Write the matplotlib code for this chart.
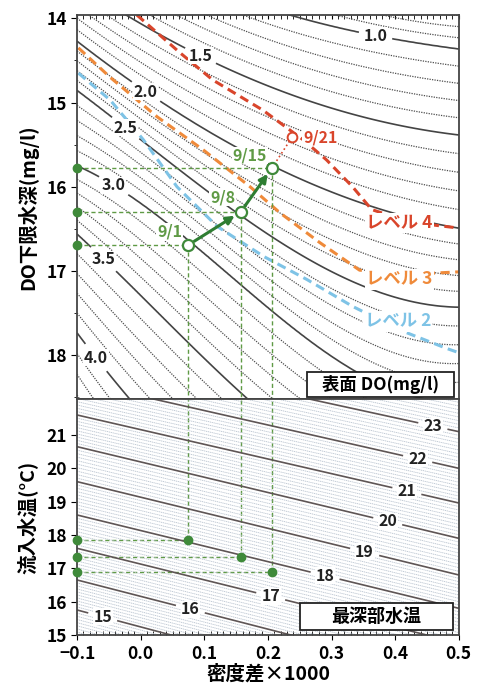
import numpy as np
import matplotlib
matplotlib.use("Agg")
import matplotlib.pyplot as plt
from matplotlib.patches import Rectangle

plt.rcParams['font.family'] = ['Noto Sans CJK JP', 'DejaVu Sans']

# ---- top panel: surface DO contours (depth of each level at each density column)
dens_cols = [-0.1, 0.0, 0.1, 0.2, 0.3, 0.4, 0.5]
do_levels = [0.5, 1.0, 1.5, 2.0, 2.5, 3.0, 3.5, 4.0, 4.5]
depth_do05 = [12.0, 12.3, 12.7, 13.0, 13.4, 13.6, 13.7]
depth_do10 = [12.8, 13.2, 13.7, 13.80, 14.09, 14.28, 14.35]
depth_do15 = [13.6, 14.02, 14.52, 14.79, 15.04, 15.28, 15.38]
depth_do20 = [14.28, 14.80, 15.34, 15.73, 16.04, 16.33, 16.49]
depth_do25 = [14.85, 15.45, 16.02, 16.57, 16.98, 17.34, 17.42]
depth_do30 = [15.75, 16.19, 16.81, 17.44, 17.96, 18.47, 18.53]
depth_do35 = [16.58, 17.22, 18.11, 18.75, 19.2, 19.7, 19.7]
depth_do40 = [17.71, 18.71, 19.5, 20.0, 20.5, 21.0, 21.0]
depth_do45 = [18.9, 20.3, 21.0, 21.5, 22.0, 22.5, 22.5]

# management level lines
lv4_dens = [-0.006, 0.062, 0.113, 0.192, 0.255, 0.292, 0.333, 0.363, 0.423, 0.5]
lv4_depth = [13.96, 14.41, 14.73, 15.09, 15.44, 15.68, 16.00, 16.27, 16.42, 16.49]
lv3_dens = [-0.098, -0.048, 0.026, 0.098, 0.172, 0.219, 0.281, 0.344, 0.423, 0.5]
lv3_depth = [14.35, 14.70, 15.17, 15.56, 16.00, 16.31, 16.66, 16.99, 17.04, 17.01]
lv2_dens = [-0.098, -0.048, 0.004, 0.057, 0.12, 0.194, 0.261, 0.333, 0.407, 0.481, 0.5]
lv2_depth = [14.65, 14.97, 15.44, 16.0, 16.47, 16.83, 17.10, 17.42, 17.70, 17.92, 17.97]

# observations
obs_dates = ['9/1', '9/8', '9/15']
obs_dens = [0.075, 0.157, 0.206]
obs_depth = [16.69, 16.30, 15.78]
obs_inflow = [17.85, 17.33, 16.90]
fc_date = '9/21'
fc_dens = 0.238
fc_depth = 15.41

# ---- bottom panel: deepest water temperature (inflow temp of each level at left/right edge)
deep_levels = [14, 15, 16, 17, 18, 19, 20, 21, 22, 23, 24]
inflow_left = [14.8, 15.75, 16.65, 17.6, 18.6, 19.6, 20.65, 21.6, 22.6, 23.6, 24.6]
inflow_right = [11.7, 12.7, 13.7, 14.76, 15.8, 16.8, 17.9, 18.96, 20.0, 21.1, 22.2]

RED = '#d9452b'
ORANGE = '#ef8a3a'
BLUE = '#7ec3e6'
GREEN = '#3f8a3a'
GREEN_LT = '#5f9a45'
LINE = '#444444'

fig = plt.figure(figsize=(4.85, 6.89), dpi=100)
ax1 = fig.add_axes([0.159, 0.4209, 0.787, 0.5573])
ax2 = fig.add_axes([0.159, 0.0784, 0.787, 0.3425])

# DO field from the level table
do_depths = [depth_do05, depth_do10, depth_do15, depth_do20, depth_do25,
             depth_do30, depth_do35, depth_do40, depth_do45]
xf = np.linspace(-0.1, 0.5, 161)
df = np.linspace(13.9, 18.6, 320)
fits = [np.polyfit(dens_cols, d, 3) for d in do_depths]
do_field = np.zeros((len(df), len(xf)))
for i, xv in enumerate(xf):
    dz = np.array([np.polyval(f, xv) for f in fits])
    do_field[:, i] = np.interp(df, dz, do_levels)

all_lv = np.round(np.arange(0.6, 4.45, 0.1), 1)
solid_lv = [v for v in all_lv if abs(v * 2 - round(v * 2)) < 1e-6]
dot_lv = [v for v in all_lv if v not in solid_lv]
ax1.contour(xf, df, do_field, levels=dot_lv, colors='#4d4d4d',
            linewidths=0.9, linestyles=[(0, (1, 1))])
cs1 = ax1.contour(xf, df, do_field, levels=solid_lv, colors=LINE, linewidths=1.2)
lab1 = ax1.clabel(cs1, fmt='%.1f', fontsize=11.5, inline=True, inline_spacing=6,
                  manual=[(0.368, 14.26), (0.093, 14.46), (0.010, 14.85), (-0.028, 15.35),
                          (-0.045, 16.02), (-0.056, 16.84), (-0.069, 18.02)])
for t in lab1:
    t.set_rotation(0)
    t.set_fontweight('bold')
    t.set_color('#222222')
    t.set_bbox(dict(fc='white', ec='none', pad=0.3))

dash = (0, (3, 1.8))
ax1.plot(lv4_dens, lv4_depth, color=RED, lw=2.2, ls=dash)
ax1.plot(lv3_dens, lv3_depth, color=ORANGE, lw=2.2, ls=dash)
ax1.plot(lv2_dens, lv2_depth, color=BLUE, lw=2.2, ls=dash)
lbl_box = dict(fc='white', ec='none', pad=1)
ax1.text(0.407, 16.43, 'レベル 4', color=RED, fontsize=12.5, fontweight='bold',
         ha='center', va='center', bbox=lbl_box)
ax1.text(0.407, 17.10, 'レベル 3', color=ORANGE, fontsize=12.5, fontweight='bold',
         ha='center', va='center', bbox=lbl_box)
ax1.text(0.404, 17.60, 'レベル 2', color=BLUE, fontsize=12.5, fontweight='bold',
         ha='center', va='center', bbox=lbl_box)

# guide lines to axes
top_lim = (18.52, 13.96)
bot_lim = (15, 22.08)
for xv, dv, tv in zip(obs_dens, obs_depth, obs_inflow):
    ax1.plot([-0.1, xv], [dv, dv], color=GREEN_LT, lw=1, ls=(0, (3, 2)))
    ax1.plot([xv, xv], [dv, top_lim[0]], color=GREEN_LT, lw=1, ls=(0, (3, 2)))
    ax1.plot(-0.1, dv, 'o', color=GREEN, ms=6, clip_on=False, zorder=6)
    ax2.plot([xv, xv], [tv, bot_lim[1]], color=GREEN_LT, lw=1, ls=(0, (3, 2)))
    ax2.plot([-0.1, xv], [tv, tv], color=GREEN_LT, lw=1, ls=(0, (3, 2)))
    ax2.plot(xv, tv, 'o', color=GREEN, ms=6, zorder=6)
    ax2.plot(-0.1, tv, 'o', color=GREEN, ms=6, clip_on=False, zorder=6)

ax1.plot([obs_dens[-1], fc_dens], [obs_depth[-1], fc_depth], color=RED, lw=1.2, ls=':')
for k in range(len(obs_dens) - 1):
    ax1.annotate('', xy=(obs_dens[k + 1], obs_depth[k + 1]), xytext=(obs_dens[k], obs_depth[k]),
                 arrowprops=dict(arrowstyle='-|>', color='#2e7d32', lw=2.2,
                                 mutation_scale=12, shrinkA=5, shrinkB=5), zorder=7)
ax1.plot(obs_dens, obs_depth, 'o', mfc='white', mec=GREEN, mew=1.6, ms=8, ls='none', zorder=8)
ax1.plot(fc_dens, fc_depth, 'o', mfc='white', mec=RED, mew=1.4, ms=7, zorder=8)
for lab, xv, dv, off in zip(obs_dates, obs_dens, obs_depth, [(-19, 13), (-18, 15), (-22, 13)]):
    ax1.annotate(lab, (xv, dv), xytext=off, textcoords='offset pixels', color=GREEN_LT,
                 fontsize=11.5, fontweight='bold', ha='center', va='center', zorder=9,
                 bbox=dict(fc='white', ec='none', pad=0.5))
ax1.annotate(fc_date, (fc_dens, fc_depth), xytext=(28, 0), textcoords='offset pixels', color=RED,
             fontsize=11.5, fontweight='bold', ha='center', va='center', zorder=9,
             bbox=dict(fc='white', ec='none', pad=0.5))

ax1.add_patch(Rectangle((0.602, 0.006), 0.386, 0.064, transform=ax1.transAxes,
                        fc='white', ec='#222222', lw=1.3, zorder=10))
ax1.text(0.795, 0.038, '表面 DO(mg/l)', transform=ax1.transAxes, fontsize=12.5,
         fontweight='bold', ha='center', va='center', zorder=11)

ax1.set_xlim(-0.1, 0.5)
ax1.set_ylim(*top_lim)
ax1.set_yticks([14, 15, 16, 17, 18])
ax1.set_yticks(np.arange(14.5, 18.6, 1.0), minor=True)
ax1.set_xticks(np.arange(-0.1, 0.51, 0.1))
ax1.set_xticks(np.arange(-0.1, 0.5, 0.01), minor=True)
ax1.tick_params(axis='x', which='both', direction='in', top=True, bottom=False,
                labelbottom=False, length=3)
ax1.set_ylabel('DO下限水深(mg/l)', fontsize=14, fontweight='bold', labelpad=6)

# bottom panel temperature field
yf = np.linspace(14.8, 22.3, 300)
t_field = np.zeros((len(yf), len(xf)))
for i, xv in enumerate(xf):
    w = (xv + 0.1) / 0.6
    tin = np.array(inflow_left) * (1 - w) + np.array(inflow_right) * w
    t_field[:, i] = np.interp(yf, tin, deep_levels)
thin_lv = [v for v in np.round(np.arange(14.1, 24, 0.1), 1) if abs(v - round(v)) > 1e-6]
ax2.contour(xf, yf, t_field, levels=thin_lv, colors='#b9c3cf', linewidths=0.6,
            linestyles=[(0, (1.5, 0.8))])
cs2 = ax2.contour(xf, yf, t_field, levels=list(range(15, 24)), colors='#5e5555', linewidths=1.2)
lab2 = ax2.clabel(cs2, fmt='%d', fontsize=11.5, inline=True, inline_spacing=6,
                  manual=[(-0.061, 15.45), (0.077, 15.69), (0.203, 16.05), (0.289, 16.71),
                          (0.352, 17.49), (0.388, 18.39), (0.418, 19.29), (0.435, 20.25),
                          (0.459, 21.25)])
for t in lab2:
    t.set_rotation(0)
    t.set_fontweight('bold')
    t.set_color('#222222')
    t.set_bbox(dict(fc='white', ec='none', pad=0.3))

ax2.add_patch(Rectangle((0.584, 0.021), 0.400, 0.115, transform=ax2.transAxes,
                        fc='white', ec='#222222', lw=1.3, zorder=10))
ax2.text(0.784, 0.078, '最深部水温', transform=ax2.transAxes, fontsize=13,
         fontweight='bold', ha='center', va='center', zorder=11)

ax2.set_xlim(-0.1, 0.5)
ax2.set_ylim(*bot_lim)
ax2.set_yticks([15, 16, 17, 18, 19, 20, 21])
ax2.set_xticks(np.round(np.arange(-0.1, 0.51, 0.1), 1))
ax2.set_xticks(np.arange(-0.1, 0.5, 0.01), minor=True)
ax2.set_xticklabels(['−0.1', '0.0', '0.1', '0.2', '0.3', '0.4', '0.5'])
ax2.tick_params(axis='x', which='minor', direction='in', length=3)
ax2.set_xlabel('密度差×1000', fontsize=14, fontweight='bold', labelpad=1)
ax2.set_ylabel('流入水温(°C)', fontsize=14, fontweight='bold', labelpad=6)

for ax in (ax1, ax2):
    ax.tick_params(axis='y', which='major', direction='out', length=4, labelsize=12.5)
    ax.tick_params(axis='y', which='minor', direction='out', length=2)
    ax.tick_params(axis='x', which='major', labelsize=12.5)
    for lbl in ax.get_xticklabels() + ax.get_yticklabels():
        lbl.set_fontweight('bold')
    for s in ax.spines.values():
        s.set_linewidth(1.3)
        s.set_color('#444444')

fig.savefig('out.png', dpi=100)
